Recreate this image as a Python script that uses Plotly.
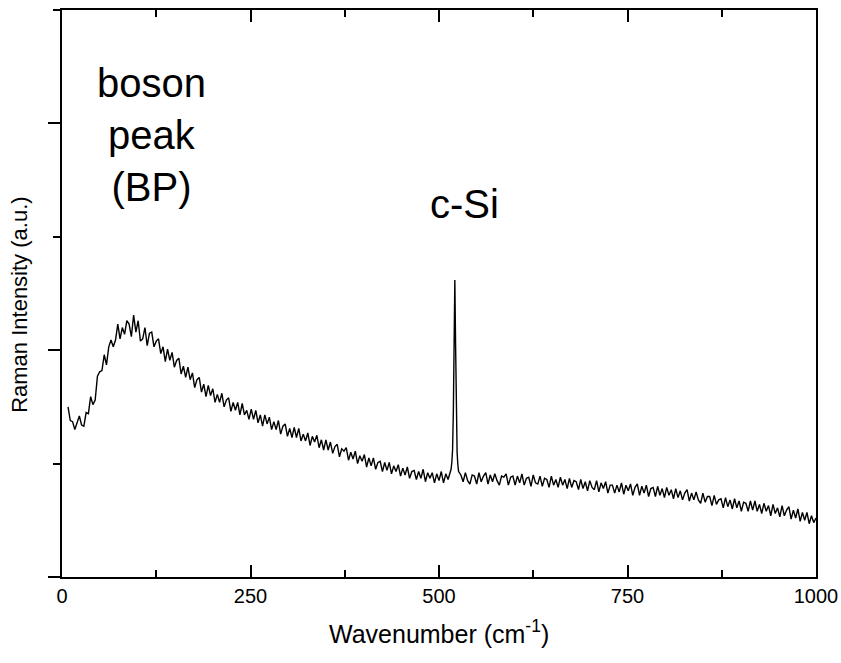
import plotly.graph_objects as go

# ---- data ----
wn_seg1 = list(range(8, 513, 3))        # 8 .. 512
int_seg1 = [
    1.50, 1.38, 1.37, 1.30, 1.36, 1.42, 1.34, 1.33, 1.45, 1.44,
    1.59, 1.52, 1.56, 1.77, 1.81, 1.82, 1.96, 1.87, 2.03, 2.09,
    2.03, 2.09, 2.23, 2.10, 2.20, 2.14, 2.26, 2.23, 2.12, 2.31,
    2.16, 2.26, 2.08, 2.10, 2.20, 2.04, 2.15, 2.16, 2.03, 2.08,
    2.10, 1.97, 2.03, 1.90, 2.01, 1.91, 1.98, 1.85, 1.91, 1.93,
    1.79, 1.86, 1.76, 1.85, 1.74, 1.80, 1.67, 1.74, 1.76, 1.63,
    1.70, 1.59, 1.69, 1.60, 1.66, 1.54, 1.61, 1.54, 1.62, 1.50,
    1.56, 1.58, 1.46, 1.54, 1.47, 1.54, 1.43, 1.53, 1.43, 1.47,
    1.39, 1.48, 1.39, 1.47, 1.36, 1.43, 1.33, 1.43, 1.35, 1.41,
    1.30, 1.37, 1.30, 1.38, 1.26, 1.33, 1.35, 1.24, 1.31, 1.23,
    1.32, 1.23, 1.31, 1.20, 1.26, 1.20, 1.27, 1.16, 1.24, 1.19,
    1.25, 1.14, 1.21, 1.12, 1.21, 1.12, 1.19, 1.09, 1.15, 1.17,
    1.06, 1.13, 1.11, 1.14, 1.03, 1.10, 1.04, 1.11, 1.00, 1.07,
    1.02, 1.08, 0.97, 1.05, 0.98, 1.05, 0.95, 1.01, 1.02, 0.93,
    1.01, 0.94, 1.01, 0.91, 0.98, 0.93, 0.99, 0.89, 0.96, 0.90,
    0.97, 0.87, 0.93, 0.94, 0.86, 0.93, 0.87, 0.95, 0.84, 0.92,
    0.87, 0.92, 0.83, 0.91, 0.85, 0.93, 0.83, 0.91, 0.86,
]
wn_seg2 = list(range(514, 527))          # c-Si peak, fine sampling
int_seg2 = [0.90, 0.92, 0.95, 1.01, 1.12, 1.45, 2.10, 2.62, 2.05, 1.40, 1.10, 0.99, 0.93]
wn_seg3 = list(range(529, 1001, 3))      # 529 .. 1000
int_seg3 = [
    0.90, 0.84, 0.92, 0.85, 0.82, 0.90, 0.89, 0.82, 0.92, 0.84,
    0.89, 0.92, 0.82, 0.90, 0.84, 0.91, 0.85, 0.81, 0.89, 0.88,
    0.91, 0.81, 0.88, 0.89, 0.81, 0.89, 0.83, 0.91, 0.81, 0.87,
    0.88, 0.80, 0.90, 0.83, 0.82, 0.89, 0.80, 0.87, 0.86, 0.79,
    0.89, 0.81, 0.86, 0.79, 0.88, 0.81, 0.86, 0.78, 0.87, 0.79,
    0.85, 0.84, 0.77, 0.86, 0.78, 0.84, 0.76, 0.85, 0.79, 0.77,
    0.85, 0.75, 0.83, 0.78, 0.84, 0.74, 0.81, 0.81, 0.74, 0.81,
    0.75, 0.83, 0.73, 0.81, 0.76, 0.82, 0.72, 0.79, 0.82, 0.72,
    0.80, 0.74, 0.81, 0.71, 0.78, 0.79, 0.71, 0.80, 0.72, 0.78,
    0.70, 0.79, 0.72, 0.77, 0.69, 0.78, 0.70, 0.76, 0.68, 0.74,
    0.77, 0.67, 0.74, 0.68, 0.75, 0.68, 0.65, 0.74, 0.66, 0.71,
    0.71, 0.63, 0.72, 0.64, 0.68, 0.69, 0.61, 0.70, 0.62, 0.68,
    0.60, 0.69, 0.61, 0.67, 0.58, 0.66, 0.65, 0.58, 0.67, 0.59,
    0.67, 0.58, 0.64, 0.56, 0.65, 0.58, 0.63, 0.54, 0.64, 0.56,
    0.61, 0.53, 0.63, 0.54, 0.59, 0.62, 0.51, 0.59, 0.52, 0.60,
    0.49, 0.57, 0.50, 0.57, 0.47, 0.54, 0.48, 0.52,
]
assert len(wn_seg1) == len(int_seg1), (len(wn_seg1), len(int_seg1))
assert len(wn_seg2) == len(int_seg2)
assert len(wn_seg3) == len(int_seg3), (len(wn_seg3), len(int_seg3))

wavenumber = wn_seg1 + wn_seg2 + wn_seg3
intensity = int_seg1 + int_seg2 + int_seg3

x_ticks = [0, 250, 500, 750, 1000]
x_ticklabels = ["0", "250", "500", "750", "1000"]

FONT = "Arial, Liberation Sans, sans-serif"

fig = go.Figure()
fig.add_trace(go.Scatter(
    x=wavenumber, y=intensity, mode="lines",
    line=dict(color="black", width=1.4), showlegend=False, hoverinfo="skip",
))

fig.update_layout(
    width=841, height=663,
    margin=dict(l=62, r=25, t=10, b=86, autoexpand=False),
    paper_bgcolor="white", plot_bgcolor="white",
    font=dict(family=FONT, color="black"),
    xaxis=dict(
        range=[0, 1000], tickvals=x_ticks, ticktext=x_ticklabels,
        ticks="inside", ticklen=12, tickwidth=2, tickcolor="black",
        minor=dict(dtick=125, tick0=0, ticks="inside", ticklen=7, tickwidth=2, tickcolor="black", showgrid=False),
        showline=True, linecolor="black", linewidth=2, mirror="allticks",
        showgrid=False, zeroline=False, ticklabeloverflow="allow", automargin=False,
        tickfont=dict(size=20, family=FONT, color="black"),
    ),
    yaxis=dict(
        range=[0, 5], tick0=0, dtick=2,
        ticks="outside", ticklen=12, tickwidth=2, tickcolor="black",
        minor=dict(dtick=1, tick0=0, ticks="outside", ticklen=7, tickwidth=2, tickcolor="black", showgrid=False),
        showticklabels=False, automargin=False,
        showline=True, linecolor="black", linewidth=2, mirror=True,
        showgrid=False, zeroline=False,
    ),
)

fig.add_annotation(text="Wavenumber (cm<sup>-1</sup>)", xref="paper", yref="paper",
                   x=0.5, y=-0.097, xanchor="center", yanchor="middle", showarrow=False,
                   font=dict(size=25, family=FONT, color="black"))
fig.add_annotation(text="Raman Intensity (a.u.)", xref="paper", yref="paper",
                   x=-0.0557, y=0.48, xanchor="center", yanchor="middle", textangle=-90,
                   showarrow=False, font=dict(size=22, family=FONT, color="black"))
fig.add_annotation(text="boson<br>peak<br>(BP)", xref="x", yref="y", x=119, y=3.90,
                   xanchor="center", yanchor="middle", showarrow=False, align="center",
                   font=dict(size=40, family=FONT, color="black"))
fig.add_annotation(text="c-Si", xref="x", yref="y", x=534, y=3.29,
                   xanchor="center", yanchor="middle", showarrow=False,
                   font=dict(size=40, family=FONT, color="black"))

fig.write_html(
    "out.html",
    config={"displayModeBar": False},
    post_script="document.body.style.margin='0';document.body.style.overflow='hidden';",
)
